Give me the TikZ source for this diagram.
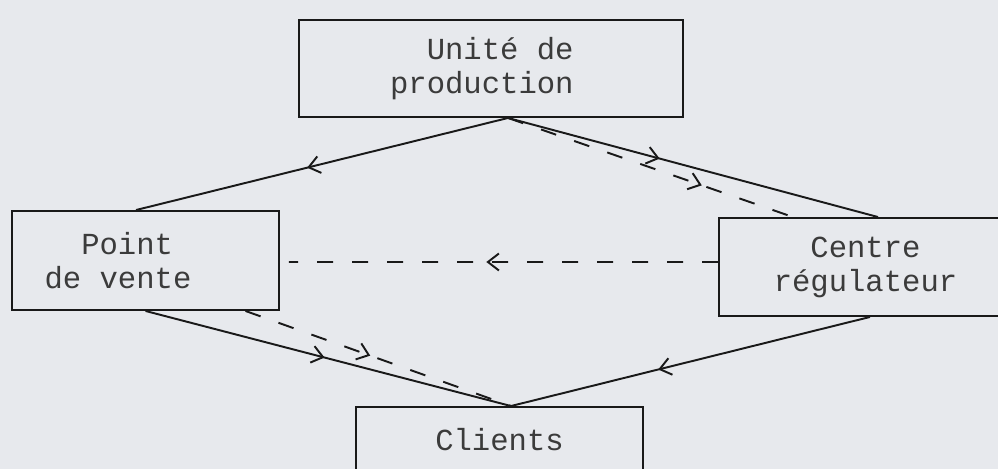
\documentclass[tikz,border=0pt]{standalone}
\usepackage{fontspec}
\newfontfamily\machine{Liberation Mono}
\usetikzlibrary{arrows.meta,decorations.markings}
\definecolor{papier}{RGB}{231,233,237}
\definecolor{encre}{RGB}{25,25,25}

\begin{document}
\begin{tikzpicture}
[boite/.style={draw=encre, line width=1.1pt, align=center, inner sep=0pt, minimum height=1.96cm, font=\machine\fontsize{17.4}{19.3}\selectfont, text=encre!85},
lien/.style={encre, line width=1.1pt},
tirets/.style={encre, line width=1.1pt, dash pattern=on 0.32cm off 0.38cm},
fleche/.style={decoration={markings, mark=at position #1 with {\arrow{Straight Barb[length=0.22cm,width=0.34cm]}}}, postaction={decorate}}]
\path[use as bounding box, clip] (0,0) rectangle (19.96,-9.38);
\fill[papier] (0,0) rectangle (19.96,-9.38);
\node[boite, minimum width=7.68cm, minimum height=1.94cm, align=right] (unite) at (9.82,-1.37) {Unité de\phantom{x}\\production\phantom{x}};
\node[boite, minimum width=5.34cm, minimum height=1.98cm, align=left] (pdv) at (2.91,-5.21) {\phantom{de}Point\\de vente\phantom{xxx}};
\node[boite, minimum width=5.86cm] (centre) at (17.31,-5.34) {Centre\\régulateur};
\node[boite, minimum width=5.74cm] (clients) at (9.99,-9.12) {Clients\\\mbox{}};
\draw[lien, fleche=0.54] ([xshift=0.34cm]unite.south) -- ([xshift=-0.19cm]pdv.north);
\draw[lien, fleche=0.41] ([xshift=0.34cm]unite.south) -- ([xshift=0.25cm]centre.north);
\draw[tirets, fleche=0.68] ([xshift=0.34cm]unite.south) -- ([xshift=-1.45cm]centre.north);
\draw[tirets, fleche=0.54] ([yshift=0.1cm]centre.west) -- ([xshift=0.18cm,yshift=-0.03cm]pdv.east);
\draw[lien, fleche=0.49] (pdv.south) -- ([xshift=0.23cm]clients.north);
\draw[tirets, fleche=0.47] ([xshift=2cm]pdv.south) -- ([xshift=0.23cm]clients.north);
\draw[lien, fleche=0.59] ([xshift=0.09cm]centre.south) -- ([xshift=0.23cm]clients.north);
\end{tikzpicture}
\end{document}
